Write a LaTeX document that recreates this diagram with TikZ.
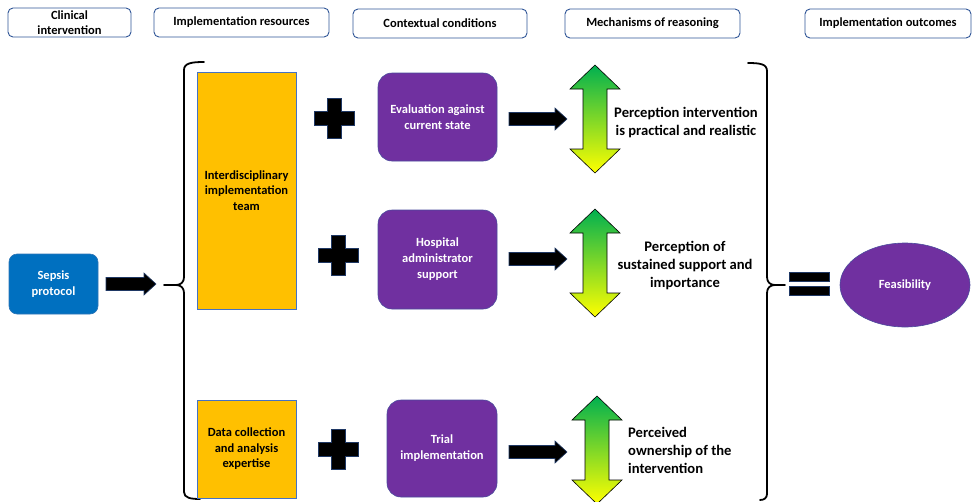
\documentclass[tikz,border=0pt]{standalone}
\usepackage{fontspec}
\setmainfont{Carlito}
\usetikzlibrary{shapes.geometric}
\definecolor{hdrline}{HTML}{2F5597}
\definecolor{sepsisblue}{HTML}{0070C0}
\definecolor{sepsisline}{HTML}{2E75B6}
\definecolor{resorange}{HTML}{FFC000}
\definecolor{resline}{HTML}{4472C4}
\definecolor{ctxpurple}{HTML}{7030A0}
\definecolor{ctxline}{HTML}{4A4A9C}
\definecolor{upgreen}{HTML}{00B050}
\definecolor{downyellow}{HTML}{FFFF00}
\definecolor{arrowline}{HTML}{1F3864}

\tikzset{
  basefont/.style={font=\bfseries\fontsize{12.5}{15.5}\selectfont},
  hdr/.style={draw=hdrline, line width=0.9pt, rounded corners=5pt, fill=white,
    align=center, inner sep=0pt, minimum height=29pt,
    font=\bfseries\fontsize{12.5}{15.5}\selectfont},
  sepsisbox/.style={draw=sepsisline, line width=0.6pt, fill=sepsisblue, rounded corners=8pt,
    text=white, align=center, inner sep=0pt, basefont},
  resbox/.style={draw=resline, line width=0.6pt, fill=resorange, align=center,
    inner sep=0pt, font=\bfseries\fontsize{12.5}{15.5}\selectfont},
  ctxbox/.style={draw=ctxline, line width=0.6pt, fill=ctxpurple, rounded corners=14pt,
    text=white, align=center, inner sep=0pt, font=\bfseries\fontsize{12.5}{16}\selectfont},
  mechtext/.style={inner sep=0pt, font=\bfseries\fontsize{14.6}{18}\selectfont},
  outcome/.style={ellipse, draw=ctxline, line width=0.6pt, fill=ctxpurple, text=white,
    inner sep=0pt, basefont},
  brace/.style={draw=black, line width=1.8pt, line cap=round, line join=round},
  solidblack/.style={fill=black, draw=arrowline, line width=0.6pt},
  pics/blockarrow/.style={code={
    \path[solidblack] (-#1,-6.5) -- (#1-12,-6.5) -- (#1-12,-11) -- (#1,0)
      -- (#1-12,11) -- (#1-12,6.5) -- (-#1,6.5) -- cycle;}},
  pics/plussign/.style={code={
    \path[solidblack] (-7,-20) -- (7,-20) -- (7,-7) -- (20,-7) -- (20,7) -- (7,7)
      -- (7,20) -- (-7,20) -- (-7,7) -- (-20,7) -- (-20,-7) -- (-7,-7) -- cycle;}},
  pics/updown/.style={code={
    \path[draw=black, line width=0.6pt, top color=upgreen, bottom color=downyellow]
      (0,-54) -- (25,-30) -- (12,-30) -- (12,30) -- (25,30) -- (0,54)
      -- (-25,30) -- (-12,30) -- (-12,-30) -- (-25,-30) -- cycle;}},
}

\begin{document}
\begin{tikzpicture}[x=1pt, y=-1pt]
\useasboundingbox (0,0) rectangle (972,501);
\clip (0,0) rectangle (972,501);

% column headings
\node[hdr, minimum width=123pt] (hclin) at (69.5,22.5) {Clinical\\intervention};
\node[hdr, minimum width=175pt] (hres) at (241.5,22.5) {Implementation resources};
\node[hdr, minimum width=174pt] (hctx) at (440,23.5) {Contextual conditions};
\node[hdr, minimum width=175pt] (hmech) at (652.5,23.5) {Mechanisms of reasoning};
\node[hdr, minimum width=166pt] (hout) at (888,23.5) {Implementation outcomes};

% clinical intervention
\node[sepsisbox, minimum width=89pt, minimum height=60pt] (sepsis) at (53.5,284) {Sepsis\\protocol};
\pic at (131,284) {blockarrow=25};

% left brace
\path[brace] (204,62) .. controls (192,62) and (184,63) .. (184,70) -- (184,277)
  .. controls (184,282) and (181,285) .. (176,285) -- (164,285);
\path[brace] (176,285) .. controls (181,285) and (184,288) .. (184,293) -- (184,492)
  .. controls (184,498) and (191,499) .. (200,499);

% implementation resources
\node[resbox, minimum width=99pt, minimum height=237pt] (team) at (246.5,190.5)
  {Interdisciplinary\\implementation\\team};
\node[resbox, minimum width=99pt, minimum height=98pt] (data) at (246.5,449)
  {Data collection\\and analysis\\expertise};

% plus signs
\pic at (334,118) {plussign};
\pic at (338,255) {plussign};
\pic at (338,449) {plussign};

% contextual conditions
\node[ctxbox, minimum width=119pt, minimum height=88pt] (eval) at (437.5,117)
  {Evaluation against\\current state};
\node[ctxbox, minimum width=119pt, minimum height=99pt] (hosp) at (437.5,259.5)
  {Hospital\\administrator\\support};
\node[ctxbox, minimum width=110pt, minimum height=97pt] (trial) at (442,448.5)
  {Trial\\implementation};

% arrows to mechanisms
\pic at (538,119) {blockarrow=29};
\pic at (538,259) {blockarrow=29};
\pic at (538,452) {blockarrow=29};

% mechanisms of reasoning
\pic at (595,119) {updown};
\pic at (595,263) {updown};
\pic at (597,450) {updown};

\node[mechtext, align=center] (mech1) at (686,123)
  {Perception intervention\\is practical and realistic};
\node[mechtext, align=center] (mech2) at (685,266)
  {Perception of\\sustained support and\\importance};
\node[mechtext, align=left, anchor=west] (mech3) at (628,450)
  {Perceived\\ownership of the\\intervention};

% right brace
\path[brace] (748,63) .. controls (760,63) and (767,64) .. (767,71) -- (767,277)
  .. controls (767,282) and (770,285) .. (775,285) -- (785,285);
\path[brace] (775,285) .. controls (770,285) and (767,288) .. (767,293) -- (767,494)
  .. controls (767,498) and (764,500) .. (760,500);

% equals sign
\path[solidblack] (789,272) rectangle (829,281);
\path[solidblack] (789,286) rectangle (829,295);

% outcome
\node[outcome, minimum width=130pt, minimum height=84pt] (feas) at (905,285) {Feasibility};
\end{tikzpicture}
\end{document}
